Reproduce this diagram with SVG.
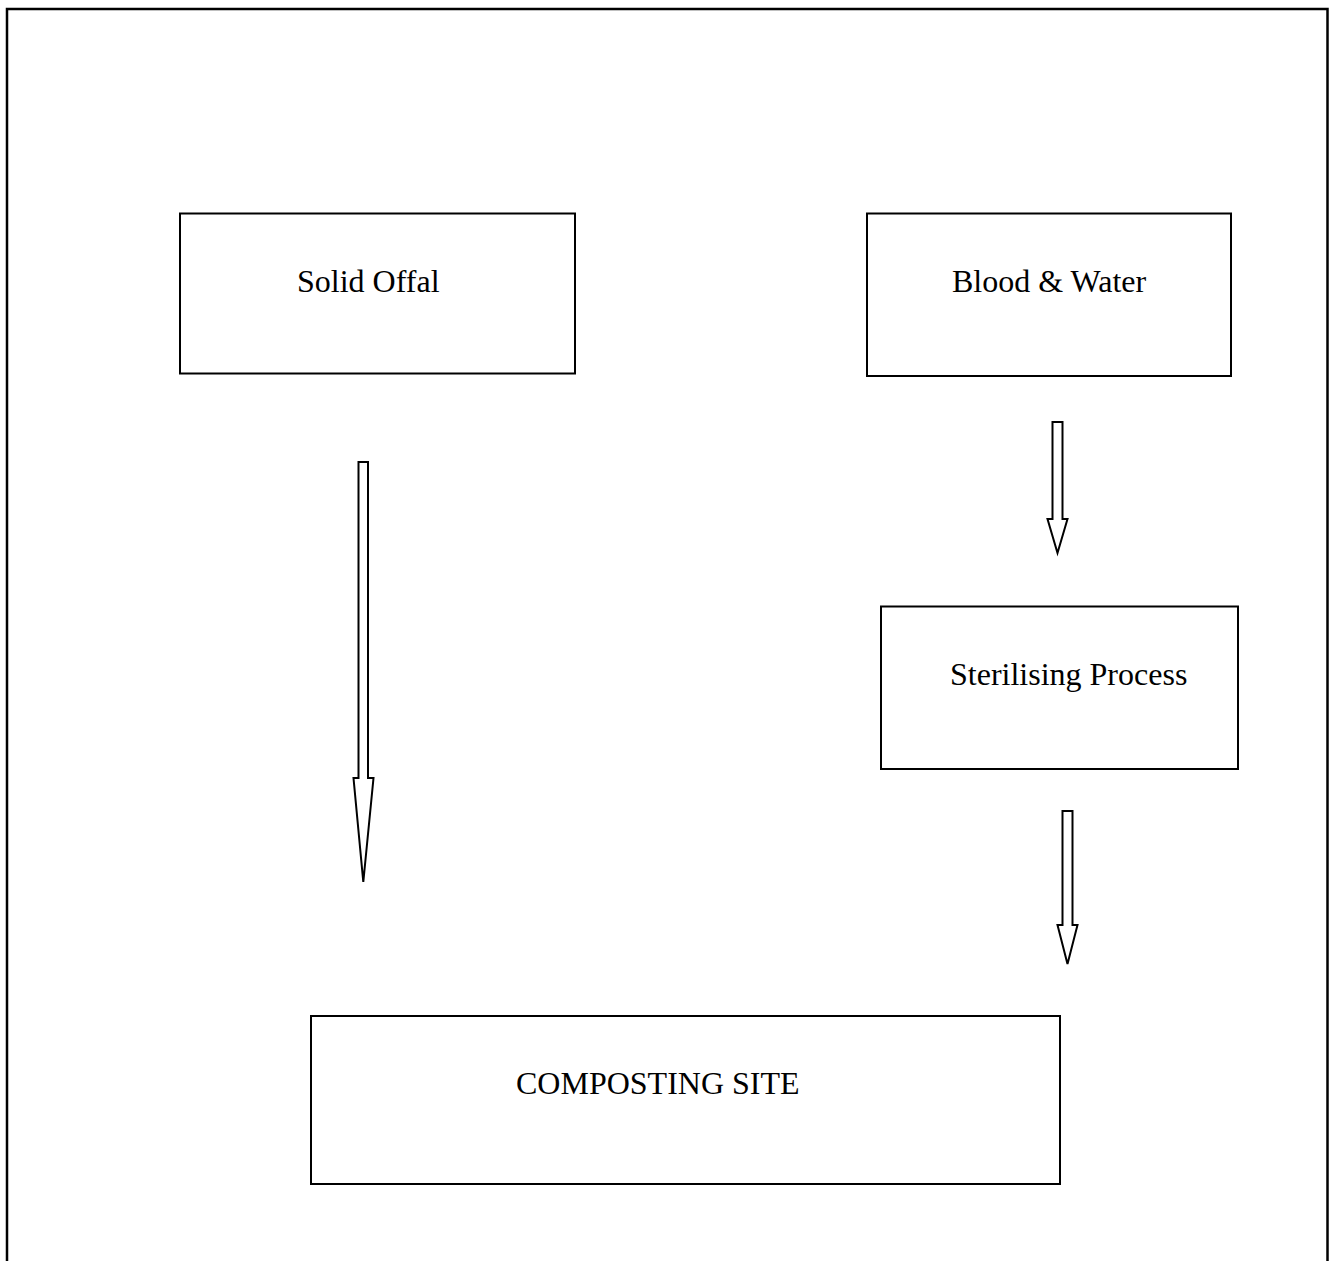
<svg xmlns="http://www.w3.org/2000/svg" width="1332" height="1261" viewBox="0 0 1332 1261">
<style>
.box{fill:#fff;stroke:#000;stroke-width:2}
.lbl{font-family:"Liberation Serif","Times New Roman",serif;font-size:32px;fill:#000}
.arr{fill:#fff;stroke:#000;stroke-width:2;stroke-linejoin:miter}
</style>
<rect width="1332" height="1261" fill="#fff"/>
<path d="M7,1261 V9 H1327.5 V1261" fill="none" stroke="#000" stroke-width="2.5"/>
<g id="solid-offal">
<rect class="box" x="180" y="213.5" width="395" height="160"/>
<text class="lbl" x="297" y="291.5">Solid Offal</text>
</g>
<g id="blood-water">
<rect class="box" x="867" y="213.5" width="364" height="162.5"/>
<text class="lbl" x="952" y="291.5">Blood &amp; Water</text>
</g>
<g id="sterilising">
<rect class="box" x="881" y="606.5" width="357" height="162.5"/>
<text class="lbl" x="950" y="684.5">Sterilising Process</text>
</g>
<g id="composting">
<rect class="box" x="311" y="1016" width="749" height="168"/>
<text class="lbl" x="516" y="1094">COMPOSTING SITE</text>
</g>
<g id="connectors">
<polygon class="arr" points="358.5,462 368,462 368,778 373.5,778 363.3,882 353.5,778 358.5,778"/>
<polygon class="arr" points="1052.5,422 1062.5,422 1062.5,519 1067.5,519 1057.5,553 1047.5,519 1052.5,519"/>
<polygon class="arr" points="1062.5,811 1072.5,811 1072.5,925 1077.5,925 1067.5,964 1057.5,925 1062.5,925"/>
</g>
</svg>
